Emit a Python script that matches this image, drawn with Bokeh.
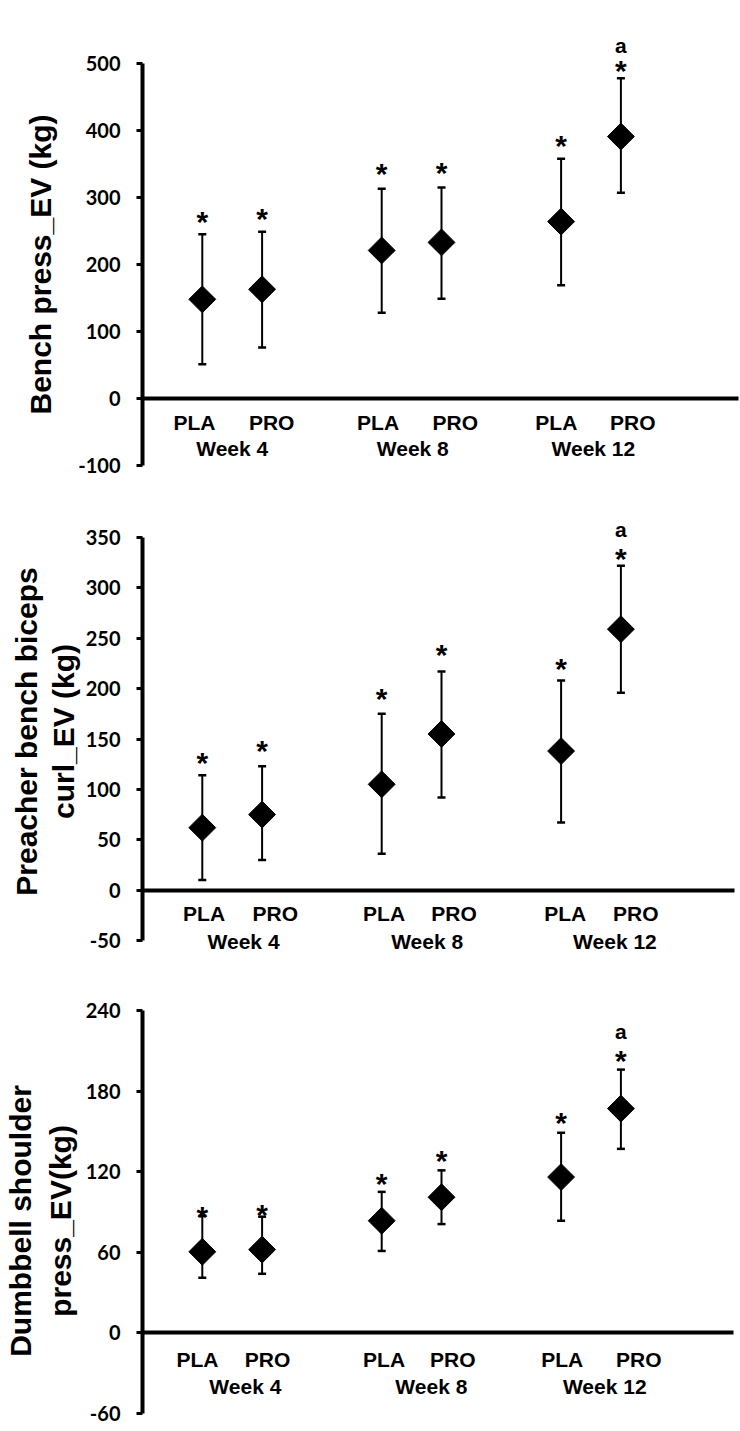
import math
from bokeh.plotting import figure
from bokeh.models import (ColumnDataSource, Range1d, FixedTicker, Whisker,
                          TeeHead, LabelSet)
from bokeh.core.properties import value
from bokeh.layouts import column
from bokeh.embed import file_html
from bokeh.resources import INLINE

# ---------------- data ----------------
weeks = ["Week 4", "Week 8", "Week 12"]
arms = ["PLA", "PRO"]

bench_mean = [148, 163, 221, 233, 264, 391]
bench_upper = [245, 249, 313, 315, 358, 478]
bench_lower = [51, 76, 128, 149, 169, 307]
bench_ticks = [-100, 0, 100, 200, 300, 400, 500]

curl_mean = [62, 75, 105, 155, 138, 259]
curl_upper = [114, 123, 175, 217, 208, 322]
curl_lower = [10, 30, 36, 92, 67, 196]
curl_ticks = [-50, 0, 50, 100, 150, 200, 250, 300, 350]

shoulder_mean = [60.4, 62, 83.5, 101, 116, 167]
shoulder_upper = [87, 86.5, 105, 121, 149, 196]
shoulder_lower = [41, 44, 61, 81, 83.5, 137]
shoulder_ticks = [-60, 0, 60, 120, 180, 240]

star_marks = ["*", "*", "*", "*", "*", "*"]
letter_marks = ["", "", "", "", "", "a"]

# ---------------- layout / style ----------------
STAR_FS = 30
SANS = "Liberation Sans"
panels = [
    dict(title="Bench press_EV (kg)", mean=bench_mean, upper=bench_upper,
         lower=bench_lower, ticks=bench_ticks, height=500,
         border_top=33, border_bottom=5, axis_px=402, pad_top=30, pad_bot=30,
         x_end=8.97,
         label_dx=[-0.13, 0.16, -0.06, 0.23, -0.08, 0.20],
         week_x=[0.50, 3.52, 6.54], label_standoff=12, week_dy=-57,
         star_d=[19, 20, 22, 22, 20, 14], a_d=25,
         title_standoff=18, title_lh=1.2),
    dict(title="Preacher bench biceps\ncurl_EV (kg)", mean=curl_mean,
         upper=curl_upper, lower=curl_lower, ticks=curl_ticks, height=475,
         border_top=10, border_bottom=23, axis_px=403, pad_top=27, pad_bot=12,
         x_end=8.9,
         label_dx=[0.03, 0.22, 0.04, 0.21, 0.07, 0.25],
         week_x=[0.69, 3.76, 6.90], label_standoff=12, week_dy=-59,
         star_d=[19, 22, 22, 24, 19, 14], a_d=29,
         title_standoff=3, title_lh=1.11),
    dict(title="Dumbbell shoulder\npress_EV(kg)", mean=shoulder_mean,
         upper=shoulder_upper, lower=shoulder_lower, ticks=shoulder_ticks,
         height=456, border_top=35, border_bottom=0, axis_px=403,
         pad_top=0, pad_bot=18, x_end=8.88,
         label_dx=[-0.08, 0.09, 0.04, 0.19, 0.02, 0.30],
         week_x=[0.72, 3.83, 6.73], label_standoff=15, week_dy=-61,
         star_d=[6, 9, 15, 16, 17, 16], a_d=31,
         title_standoff=6, title_lh=1.2),
]

xs = [3 * g + a for g in range(len(weeks)) for a in range(len(arms))]
arm_names = [arms[a] for g in range(len(weeks)) for a in range(len(arms))]

figs = []
for cfg in panels:
    ticks = cfg["ticks"]
    lo, hi = ticks[0], ticks[-1]
    upp = (hi - lo) / cfg["axis_px"]
    p = figure(width=740, height=cfg["height"],
               x_range=Range1d(-1.0, 9.0),
               y_range=Range1d(lo - cfg["pad_bot"] * upp, hi + cfg["pad_top"] * upp),
               output_backend="svg", toolbar_location=None,
               min_border_left=142, min_border_right=0,
               min_border_top=cfg["border_top"],
               min_border_bottom=cfg["border_bottom"])
    p.grid.visible = False
    p.outline_line_color = None
    p.background_fill_color = "white"
    p.border_fill_color = "white"

    # y axis
    ya = p.yaxis[0]
    ya.ticker = FixedTicker(ticks=ticks)
    ya.major_label_overrides = {t: str(t) for t in ticks if t < 0}
    ya.bounds = (lo, hi)
    ya.minor_tick_line_color = None
    ya.major_tick_out = 6
    ya.major_tick_in = 0
    ya.major_tick_line_width = 3
    ya.axis_line_width = 4
    ya.major_label_standoff = 16
    ya.major_label_text_font = "Lato"
    ya.major_label_text_font_style = "bold"
    ya.major_label_text_font_size = "20px"
    ya.major_label_text_color = "black"
    ya.axis_label = cfg["title"]
    ya.axis_label_text_font = SANS
    ya.axis_label_text_font_style = "bold"
    ya.axis_label_text_font_size = "30px"
    ya.axis_label_text_color = "black"
    ya.axis_label_text_line_height = cfg["title_lh"]
    ya.axis_label_standoff = cfg["title_standoff"]

    # x axis at zero with PLA / PRO labels
    lab_pos = [round(x + d, 3) for x, d in zip(xs, cfg["label_dx"])]
    xa = p.xaxis[0]
    xa.fixed_location = 0
    xa.bounds = (-1.0, cfg["x_end"])
    xa.ticker = FixedTicker(ticks=lab_pos)
    overrides = {}
    for v, name in zip(lab_pos, arm_names):
        overrides[v] = name
        overrides[str(v)] = name
    xa.major_label_overrides = overrides
    xa.major_tick_out = 0
    xa.major_tick_in = 0
    xa.minor_tick_line_color = None
    xa.axis_line_width = 4
    xa.major_label_standoff = cfg["label_standoff"]
    xa.major_label_text_font = SANS
    xa.major_label_text_font_style = "bold"
    xa.major_label_text_font_size = "21px"
    xa.major_label_text_color = "black"

    src = ColumnDataSource(dict(
        x=xs, mean=cfg["mean"], upper=cfg["upper"], lower=cfg["lower"],
        star=star_marks,
        star_off=[d - 0.57 * STAR_FS for d in cfg["star_d"]],
    ))

    p.add_layout(Whisker(base="x", upper="upper", lower="lower", source=src,
                         dimension="height", line_width=2, line_color="black",
                         upper_head=TeeHead(size=8, line_width=2.5, line_color="black"),
                         lower_head=TeeHead(size=8, line_width=2.5, line_color="black")))

    p.scatter("x", "mean", source=src, marker="square", size=19,
              angle=math.pi / 4, fill_color="black", line_color="black")

    p.add_layout(LabelSet(x="x", y="upper", text="star", source=src,
                          y_offset="star_off", text_align="center",
                          text_baseline="alphabetic", text_font=value(SANS),
                          text_font_style="bold",
                          text_font_size=f"{STAR_FS}px", text_color="black"))

    a_idx = [i for i, t in enumerate(letter_marks) if t]
    a_src = ColumnDataSource(dict(
        x=[xs[i] for i in a_idx], y=[cfg["upper"][i] for i in a_idx],
        text=[letter_marks[i] for i in a_idx]))
    p.add_layout(LabelSet(x="x", y="y", text="text", source=a_src,
                          y_offset=cfg["a_d"], text_align="center",
                          text_baseline="alphabetic", text_font=value(SANS),
                          text_font_style="bold", text_font_size="21px",
                          text_color="black"))

    w_src = ColumnDataSource(dict(x=cfg["week_x"], y=[0, 0, 0], text=weeks))
    p.add_layout(LabelSet(x="x", y="y", text="text", source=w_src,
                          y_offset=cfg["week_dy"], text_align="center",
                          text_baseline="alphabetic", text_font=value(SANS),
                          text_font_style="bold", text_font_size="21px",
                          text_color="black"))
    figs.append(p)

layout = column(*figs, spacing=0)
open("out.html", "w").write(file_html(layout, INLINE))
